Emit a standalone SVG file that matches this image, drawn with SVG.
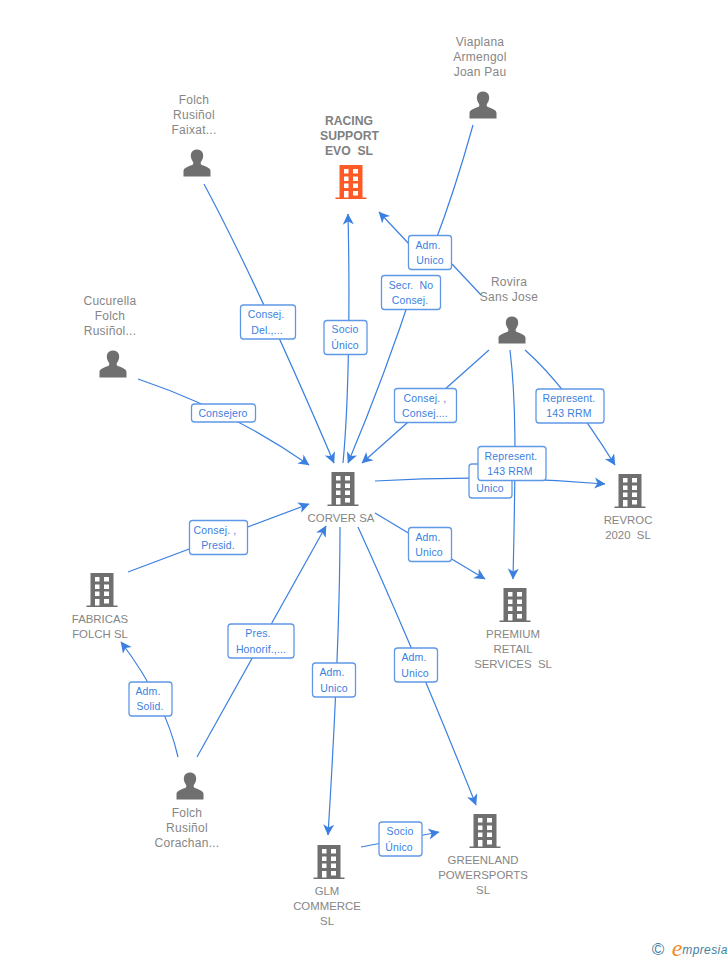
<svg xmlns="http://www.w3.org/2000/svg" width="728" height="960" viewBox="0 0 728 960">
<style>
text{font-family:"Liberation Sans",Arial,sans-serif;text-anchor:middle;white-space:pre}
.n{font-size:12px;fill:#868686;letter-spacing:.25px}
.u{font-size:11.400px;fill:#868686}
.b{font-size:12.200px;font-weight:bold;fill:#808080}
.l{font-size:10.500px;fill:#3b7fdf;letter-spacing:.15px}
.c{fill:none;stroke:#3b80e0;stroke-width:1.2}
.r{fill:#fff;stroke:#5f98e6;stroke-width:1.3}
</style>
<defs>
<marker id="a" markerWidth="14" markerHeight="14" refX="10.500" refY="6" orient="auto" markerUnits="userSpaceOnUse"><path d="M0 .5L11 6L0 11.500L3 6Z" fill="#3b80e0"/></marker>
<path id="bld" fill-rule="evenodd" d="M-15.500 0V-1.500H-11.500V-34H11.500V-1.500H15.500V0ZM-7-30V-25.500H-2.500V-30ZM2-30V-25.500H7V-30ZM-7-22.500V-18H-2.500V-22.500ZM2-22.500V-18H7V-22.500ZM-7-15.500V-11H-2.500V-15.500ZM2-15.500V-11H7V-15.500ZM-7-8V-1.500H-2.500V-8ZM2-8V-3.500H7V-8Z"/>
<path id="per" d="M-13.500 13.500V8C-13.500 4.500 -8 3.500 -4 1.500C-3.500 0 -3.500 -.5 -4.500 -2C-6 -4.500 -6.500 -6.500 -6 -9C-5.500 -12 -3 -13.500 0 -13.500C3 -13.500 5.500 -12 6 -9C6.500 -6.500 6 -4.500 4.500 -2C3.500 -.5 3.500 0 4 1.500C8 3.500 13.500 4.500 13.500 8V13.500Z"/>
</defs>
<g id="connectors">
<path class="c" d="M473 125Q455 190 434 245"/>
<path class="c" d="M415 283Q385 375 348 463" marker-end="url(#a)"/>
<path class="c" d="M410 245L379 212" marker-end="url(#a)"/>
<path class="c" d="M452 264L481 295"/>
<path class="c" d="M204 184Q258 285 334 463" marker-end="url(#a)"/>
<path class="c" d="M343 463C349 400 350 300 348 214" marker-end="url(#a)"/>
<path class="c" d="M138 379Q230 410 309 465" marker-end="url(#a)"/>
<path class="c" d="M489 350L362 463" marker-end="url(#a)"/>
<path class="c" d="M525 350Q565 385 615 465" marker-end="url(#a)"/>
<path class="c" d="M510 350C516 400 516 450 513 579" marker-end="url(#a)"/>
<path class="c" d="M375 481Q490 474 605 484" marker-end="url(#a)"/>
<path class="c" d="M375 513L485 579" marker-end="url(#a)"/>
<path class="c" d="M358 527Q412 645 476 805" marker-end="url(#a)"/>
<path class="c" d="M340 527C340 600 337 690 328 835" marker-end="url(#a)"/>
<path class="c" d="M197 757L326 526" marker-end="url(#a)"/>
<path class="c" d="M128 572L309 504" marker-end="url(#a)"/>
<path class="c" d="M178 757Q165 700 121 642" marker-end="url(#a)"/>
<path class="c" d="M361 847L439 832" marker-end="url(#a)"/>
</g>
<g id="edge-labels">
<g><rect class="r" x="469" y="464" width="43" height="34" rx="3"/><text class="l" x="490" y="492">Unico</text></g>
<g><rect class="r" x="408.500" y="235.500" width="43" height="34" rx="3"/><text class="l" x="428" y="249">Adm.</text><text class="l" x="430" y="264">Unico</text></g>
<g><rect class="r" x="381.500" y="275.500" width="59" height="34" rx="3"/><text class="l" x="411" y="289">Secr.  No</text><text class="l" x="410" y="304">Consej.</text></g>
<g><rect class="r" x="240.500" y="305" width="55" height="34" rx="3"/><text class="l" x="266" y="318">Consej.</text><text class="l" x="267" y="334">Del.,...</text></g>
<g><rect class="r" x="324" y="320.500" width="43" height="34" rx="3"/><text class="l" x="345" y="333">Socio</text><text class="l" x="345" y="349">Único</text></g>
<g><rect class="r" x="191.500" y="404" width="64" height="18" rx="3"/><text class="l" x="223" y="417">Consejero</text></g>
<g><rect class="r" x="394.500" y="388.500" width="62" height="34" rx="3"/><text class="l" x="425" y="402">Consej. ,</text><text class="l" x="425" y="417">Consej....</text></g>
<g><rect class="r" x="536" y="389" width="68" height="34" rx="3"/><text class="l" x="569" y="402">Represent.</text><text class="l" x="569" y="417">143 RRM</text></g>
<g><rect class="r" x="478" y="446.500" width="68" height="34" rx="3"/><text class="l" x="511" y="460">Represent.</text><text class="l" x="510" y="475">143 RRM</text></g>
<g><rect class="r" x="408.500" y="527.500" width="43" height="34" rx="3"/><text class="l" x="428" y="541">Adm.</text><text class="l" x="429" y="556">Unico</text></g>
<g><rect class="r" x="189.500" y="520.500" width="58" height="34" rx="3"/><text class="l" x="215" y="534">Consej. ,</text><text class="l" x="218" y="549">Presid.</text></g>
<g><rect class="r" x="228" y="624" width="66" height="34" rx="3"/><text class="l" x="258" y="637">Pres.</text><text class="l" x="261" y="653">Honorif.,...</text></g>
<g><rect class="r" x="312.500" y="663" width="43" height="34" rx="3"/><text class="l" x="332" y="676">Adm.</text><text class="l" x="334" y="692">Unico</text></g>
<g><rect class="r" x="394.500" y="648" width="43" height="34" rx="3"/><text class="l" x="414" y="661">Adm.</text><text class="l" x="415" y="677">Unico</text></g>
<g><rect class="r" x="129" y="682" width="43" height="34" rx="3"/><text class="l" x="148" y="695">Adm.</text><text class="l" x="150" y="710">Solid.</text></g>
<g><rect class="r" x="379" y="822" width="43" height="34" rx="3"/><text class="l" x="400" y="835">Socio</text><text class="l" x="399" y="851">Único</text></g>
</g>
<g id="racing"><use href="#bld" x="351" y="199" fill="#ff5a26"/><text class="b" x="349" y="125">RACING</text><text class="b" x="349.500" y="140">SUPPORT</text><text class="b" x="349" y="155">EVO  SL</text></g>
<g id="viaplana"><use href="#per" x="483" y="105" fill="#6f6f6f"/><text class="n" x="480" y="46">Viaplana</text><text class="n" x="480" y="61">Armengol</text><text class="n" x="480" y="76">Joan Pau</text></g>
<g id="faixat"><use href="#per" x="197" y="163" fill="#6f6f6f"/><text class="n" x="194" y="104">Folch</text><text class="n" x="194" y="119">Rusiñol</text><text class="n" x="194" y="134">Faixat...</text></g>
<g id="rovira"><use href="#per" x="512" y="330" fill="#6f6f6f"/><text class="n" x="509" y="286">Rovira</text><text class="n" x="509" y="301">Sans Jose</text></g>
<g id="cucurella"><use href="#per" x="113" y="364" fill="#6f6f6f"/><text class="n" x="110" y="305">Cucurella</text><text class="n" x="110" y="320">Folch</text><text class="n" x="110" y="335">Rusiñol...</text></g>
<g id="corver"><use href="#bld" x="343" y="506" fill="#6f6f6f"/><text class="u" x="341" y="522">CORVER SA</text></g>
<g id="revroc"><use href="#bld" x="630" y="508" fill="#6f6f6f"/><text class="u" x="628" y="524">REVROC</text><text class="u" x="628" y="539">2020  SL</text></g>
<g id="premium"><use href="#bld" x="515" y="622" fill="#6f6f6f"/><text class="u" x="513" y="638">PREMIUM</text><text class="u" x="513" y="653">RETAIL</text><text class="u" x="513" y="668">SERVICES  SL</text></g>
<g id="fabricas"><use href="#bld" x="102" y="607" fill="#6f6f6f"/><text class="u" x="100" y="623">FABRICAS</text><text class="u" x="100" y="638">FOLCH SL</text></g>
<g id="corachan"><use href="#per" x="190" y="786" fill="#6f6f6f"/><text class="n" x="187" y="817">Folch</text><text class="n" x="187" y="832">Rusiñol</text><text class="n" x="187" y="847">Corachan...</text></g>
<g id="glm"><use href="#bld" x="329" y="879" fill="#6f6f6f"/><text class="u" x="327" y="895">GLM</text><text class="u" x="327" y="910">COMMERCE</text><text class="u" x="327" y="925">SL</text></g>
<g id="greenland"><use href="#bld" x="485" y="848" fill="#6f6f6f"/><text class="u" x="483" y="864">GREENLAND</text><text class="u" x="483" y="879">POWERSPORTS</text><text class="u" x="483" y="894">SL</text></g>
<g id="logo"><text x="658" y="955" font-size="17" style="fill:#3f7f9f">©</text><text x="677" y="956" font-size="24" font-style="italic" style="fill:#f58a1f;font-family:'Liberation Serif',serif">e</text><text x="705" y="954" font-size="12" font-style="italic" style="fill:#3f7f9f;letter-spacing:.4px">mpresia</text></g>
</svg>
